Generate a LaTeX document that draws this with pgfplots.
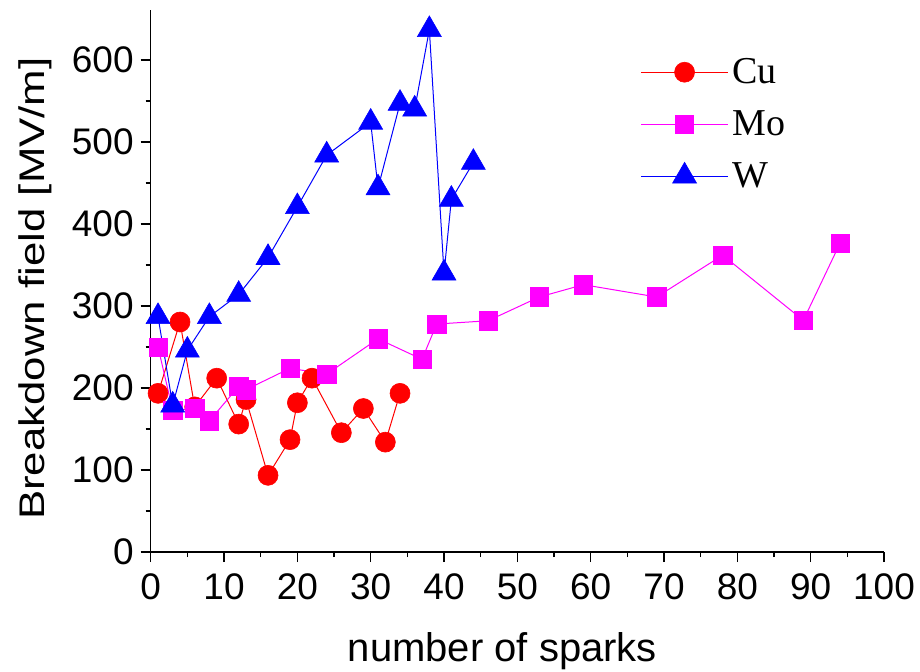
\documentclass[border=0pt]{standalone}
\usepackage{fontspec}
\setmainfont{Liberation Sans}
\newfontfamily\serifleg{Liberation Serif}
\usepackage{pgfplots}
\pgfplotsset{compat=1.18}
\definecolor{cured}{RGB}{255,0,0}
\definecolor{momag}{RGB}{255,0,255}
\definecolor{wblue}{RGB}{0,0,255}
\newcommand{\ylabtext}{Breakdown field {[}MV/m{]}}
\begin{document}
\begin{tikzpicture}
\begin{axis}[
  scale only axis, width=366.65pt, height=271pt,
  at={(0,0)}, anchor=south west,
  xmin=0, xmax=100, ymin=0, ymax=661,
  axis lines*=left,
  axis line style={line width=0.6pt},
  tick style={line width=0.6pt, black},
  tick align=outside,
  major tick length=5pt, minor tick length=2.5pt,
  xtick={0,10,...,100}, ytick={0,100,...,600},
  minor x tick num=1, minor y tick num=1,
  ticklabel style={font=\fontsize{18.5}{20}\selectfont},
  xticklabel style={yshift=-2.5pt},
  /pgf/number format/assume math mode=true,
  xlabel={number of sparks},
  ylabel={\scalebox{1.23}[1]{\ylabtext}},
  xlabel style={font=\fontsize{20}{22}\selectfont, at={(axis description cs:0.4797,-0.2024)}, anchor=base},
  ylabel style={font=\fontsize{17.8}{20}\selectfont, at={(axis description cs:-0.1442,0.486)}, anchor=base},
  legend style={draw=none, fill=none, at={(axis description cs:0.6675,0.9193)}, anchor=north west,
     font=\serifleg\fontsize{19}{21}\selectfont, row sep=8pt, inner sep=0pt,
     /tikz/every even column/.append style={column sep=3pt}},
  legend cell align=left,
  legend image code/.code={\draw[mark repeat=2, mark phase=2, #1] plot coordinates {(0pt,0pt) (21.75pt,0pt) (43.5pt,0pt)};},
]
\addplot[cured, line width=0.5pt, mark=*, mark size=5pt, mark options={solid, fill=cured, draw=cured, line width=0.3pt}] coordinates {
(1,193.5)(4,280.5)(6,177)(9,212)(12,156)(13,186)(16,93.5)(19,137)(20,182)(22,212)(26,145.5)(29,175)(32,134)(34,193.5)};
\addlegendentry{Cu}
\addplot[momag, line width=0.5pt, mark=square*, mark size=4.6pt, mark options={solid, fill=momag, draw=momag, line width=0.3pt}] coordinates {
(1,250)(3,173)(6,175)(8,160)(12,202)(13,198)(19,224)(24,217)(31,260)(37,235)(39,278)(46,282)(53,311)(59,326)(69,311)(78,362)(89,282.5)(94,376.5)};
\addlegendentry{Mo}
\addplot[wblue, line width=0.5pt, mark=triangle*, mark size=6.9pt, mark options={solid, fill=wblue, draw=wblue, line width=0.3pt}] coordinates {
(1,287)(3,179)(5,246)(8,287)(12,314)(16,359)(20,421)(24,484)(30,524)(31,444)(34,547)(36,540)(38,637)(40,340)(41,430)(44,475)};
\addlegendentry{W}
\end{axis}
\pgfresetboundingbox
\path (-75.35pt,-59.5pt) rectangle (384.65pt,276pt);
\end{tikzpicture}
\end{document}
